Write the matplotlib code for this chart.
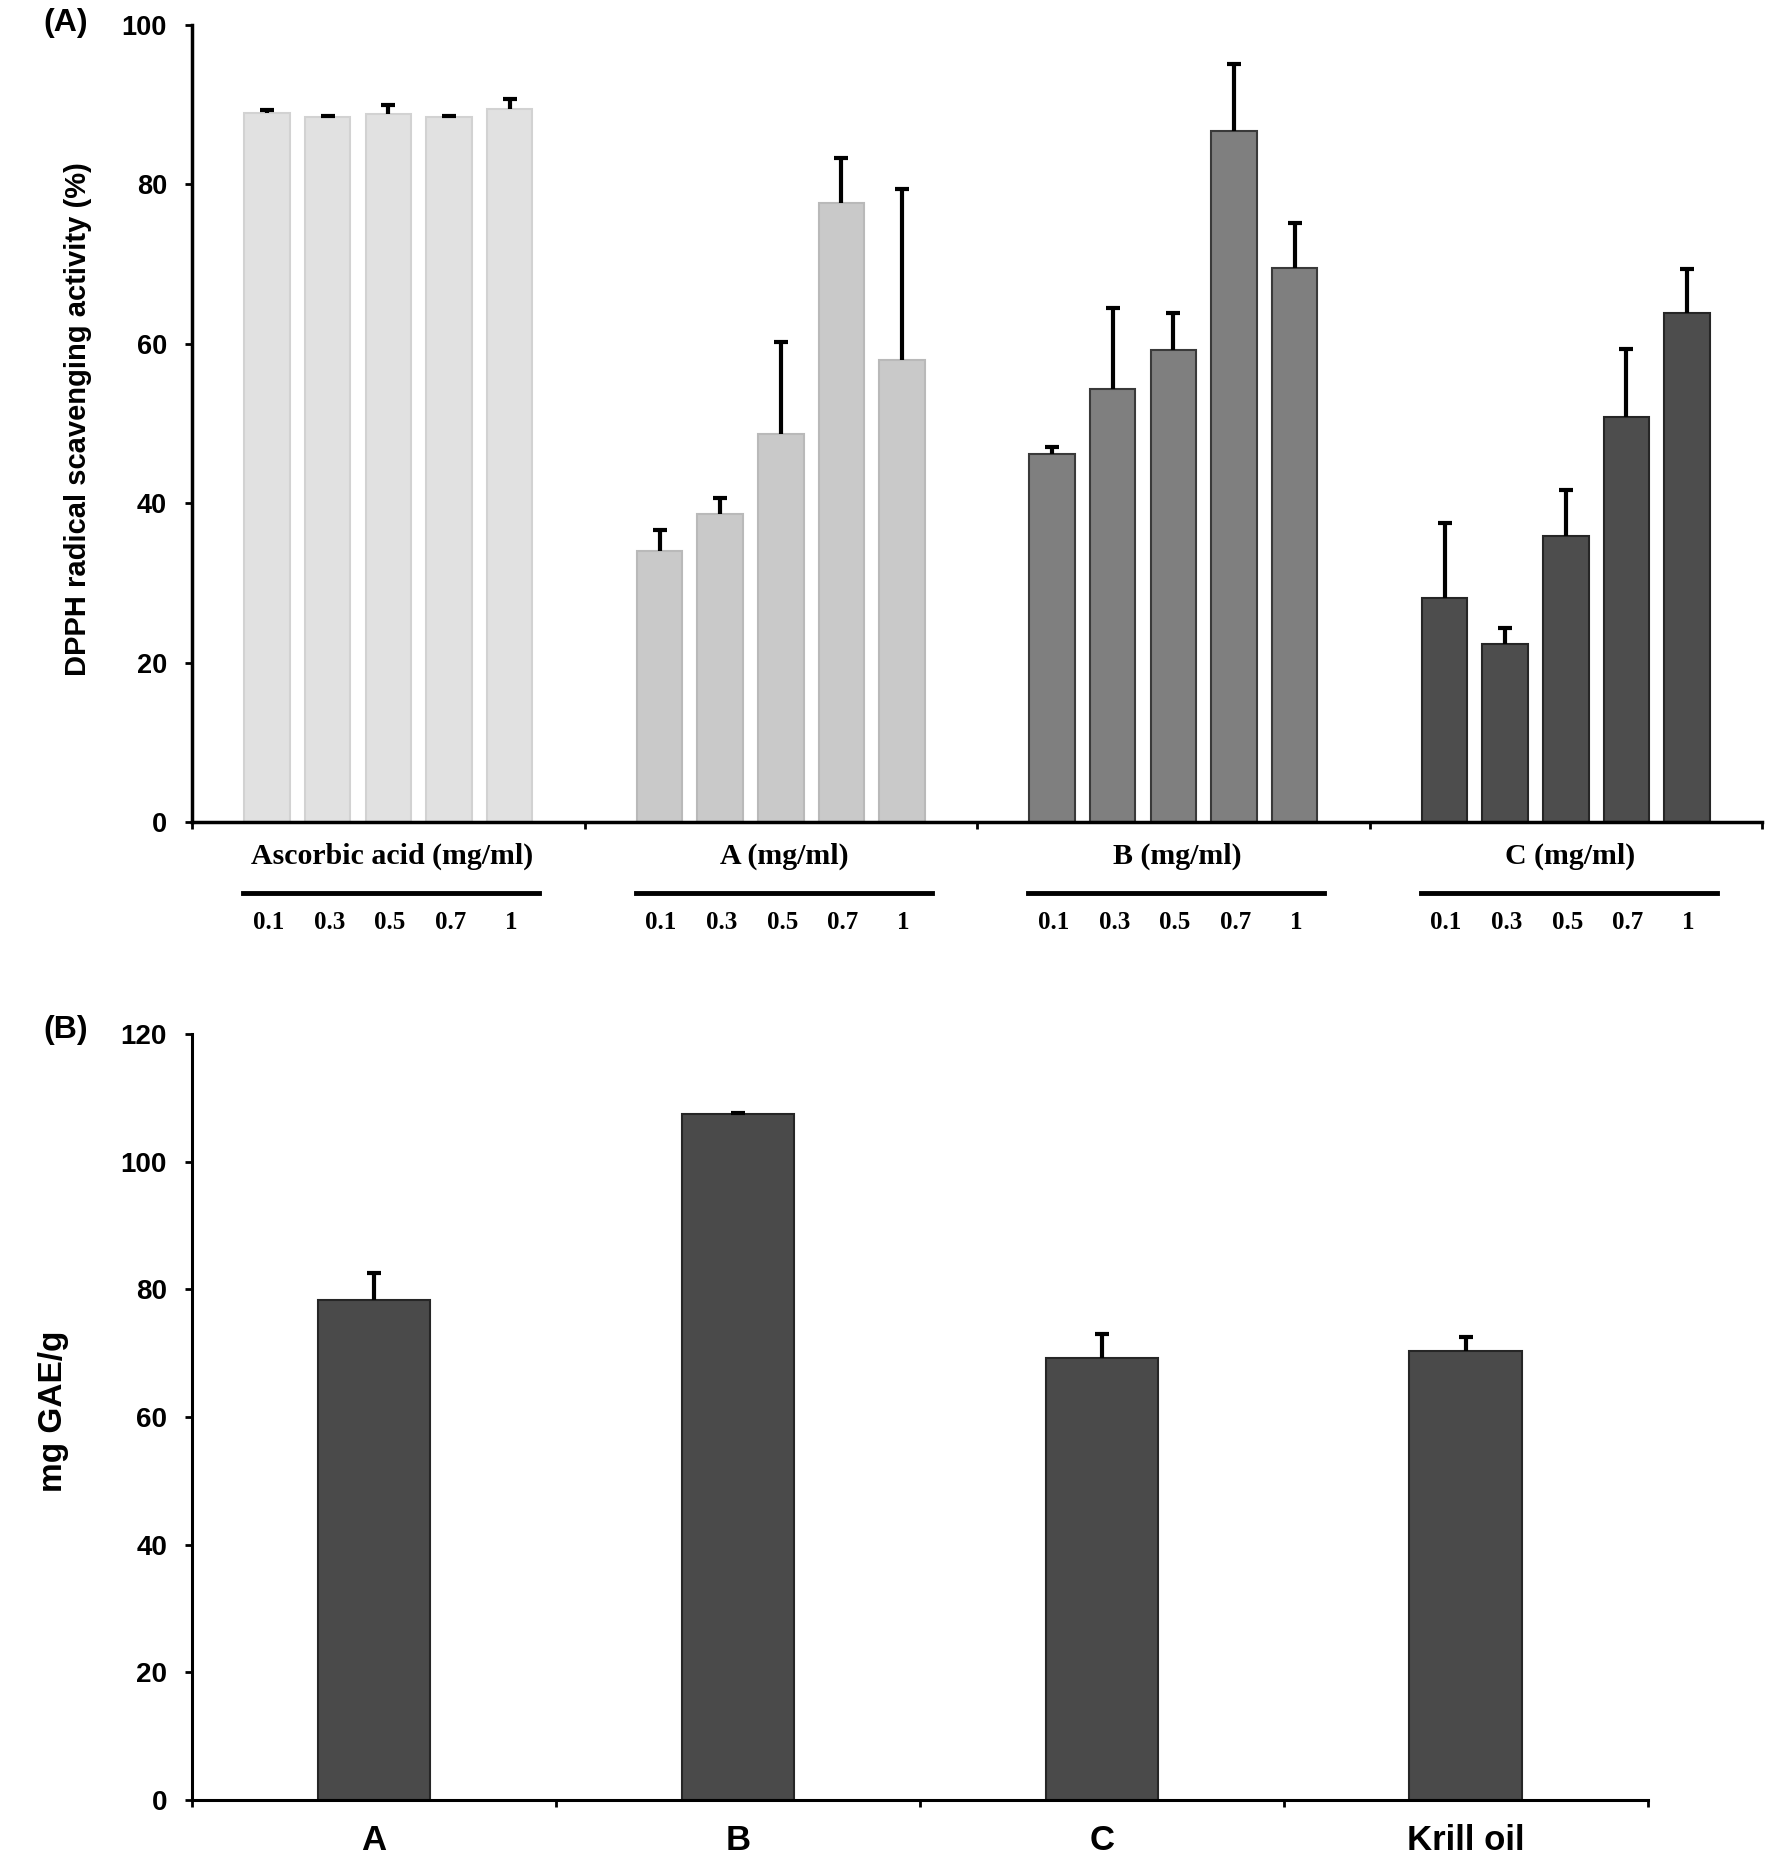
import matplotlib
matplotlib.use("Agg")
import matplotlib.pyplot as plt
import matplotlib.transforms as mtransforms
from matplotlib.lines import Line2D
import numpy as np

plt.rcParams['font.family'] = ['Liberation Sans', 'DejaVu Sans']

# ---------------- data ----------------
doses = ['0.1', '0.3', '0.5', '0.7', '1']
groups = ['Ascorbic acid (mg/ml)', 'A (mg/ml)', 'B (mg/ml)', 'C (mg/ml)']
asc_vals = [88.96, 88.46, 88.8, 88.46, 89.46]
asc_err = [0.4, 0.15, 1.15, 0.1, 1.25]
a_vals = [34.0, 38.7, 48.7, 77.7, 57.9]
a_err = [2.6, 1.9, 11.5, 5.6, 21.5]
b_vals = [46.2, 54.3, 59.2, 86.7, 69.5]
b_err = [0.9, 10.2, 4.6, 8.4, 5.7]
c_vals = [28.1, 22.3, 35.9, 50.8, 63.8]
c_err = [9.4, 2.0, 5.7, 8.5, 5.6]

tp_cats = ['A', 'B', 'C', 'Krill oil']
tp_vals = [78.4, 107.4, 69.3, 70.4]
tp_err = [4.2, 0.2, 3.7, 2.2]

group_vals = [asc_vals, a_vals, b_vals, c_vals]
group_errs = [asc_err, a_err, b_err, c_err]
fills = ['#e1e1e1', '#c9c9c9', '#7f7f7f', '#4d4d4d']
edges = ['#d2d2d2', '#b9b9b9', '#3a3a3a', '#262626']


def upper_errorbar(ax, xs, vals, errs):
    _, caps, _ = ax.errorbar(xs, vals, yerr=[np.zeros(len(errs)), errs], fmt='none',
                             ecolor='black', elinewidth=3, capsize=5, capthick=3, zorder=3)
    # hide the lower caps (drawn at bar tops)
    caps[0].set_visible(False)


fig = plt.figure(figsize=(17.7, 18.63), dpi=100)

# ---------------- panel A ----------------
axA = fig.add_axes([0.1085, 0.5588, 0.887, 0.4278])
spacing = 0.1545
width = 0.116
for g, (vals, errs) in enumerate(zip(group_vals, group_errs)):
    xs = g + 0.5 + (np.arange(len(vals)) - 2) * spacing
    axA.bar(xs, vals, width=width, color=fills[g], edgecolor=edges[g], linewidth=1.5, zorder=2)
    upper_errorbar(axA, xs, vals, errs)

axA.set_xlim(0, 4)
axA.set_ylim(0, 100)
axA.set_yticks(np.arange(0, 101, 20))
axA.set_xticks(np.arange(0, 5, 1))
axA.set_xticklabels([])
for s in ['top', 'right']:
    axA.spines[s].set_visible(False)
for s in ['left', 'bottom']:
    axA.spines[s].set_linewidth(2.5)
axA.tick_params(axis='y', direction='out', length=5, width=2, pad=13, labelsize=19.5)
axA.tick_params(axis='x', direction='out', length=5, width=2)
for lab in axA.get_yticklabels():
    lab.set_fontweight('bold')

fig.text(0.044, 0.775, 'DPPH radical scavenging activity (%)', rotation=90,
         ha='center', va='center', fontsize=21, fontweight='bold')
fig.text(0.037, 0.9875, '(A)', ha='center', va='center', fontsize=23, fontweight='bold')

trans = mtransforms.blended_transform_factory(axA.transData, fig.transFigure)
for g, name in enumerate(groups):
    c = g + 0.5
    fig.text(c + 0.01, 0.5402, name, transform=trans, ha='center', va='center',
             fontsize=21.5, fontweight='bold', family='Liberation Serif')
    ln = Line2D([c - 0.37, c + 0.385], [0.5206, 0.5206], transform=trans,
                color='black', linewidth=3.5, clip_on=False)
    axA.add_artist(ln)
    xs = c + (np.arange(len(doses)) - 2) * spacing
    for x, d in zip(xs, doses):
        fig.text(x + 0.004, 0.5046, d, transform=trans, ha='center', va='center',
                 fontsize=18, fontweight='bold', family='Liberation Serif')

# ---------------- panel B ----------------
axB = fig.add_axes([0.1085, 0.0338, 0.8225, 0.4112])
xb = np.arange(len(tp_cats)) + 0.5
axB.bar(xb, tp_vals, width=0.31, color='#4a4a4a', edgecolor='#262626', linewidth=1.5, zorder=2)
upper_errorbar(axB, xb, tp_vals, tp_err)
axB.set_xlim(0, 4)
axB.set_ylim(0, 120)
axB.set_yticks(np.arange(0, 121, 20))
axB.set_xticks(np.arange(0, 5, 1))
axB.set_xticklabels([])
axB.set_xticks(xb, minor=True)
axB.set_xticklabels(tp_cats, minor=True, fontsize=25, fontweight='bold')
axB.tick_params(axis='x', which='minor', length=0, pad=17)
for s in ['top', 'right']:
    axB.spines[s].set_visible(False)
for s in ['left', 'bottom']:
    axB.spines[s].set_linewidth(2.2)
axB.tick_params(axis='y', direction='out', length=5, width=2, pad=13, labelsize=20)
axB.tick_params(axis='x', which='major', direction='out', length=5, width=2)
for lab in axB.get_yticklabels():
    lab.set_fontweight('bold')

fig.text(0.030, 0.2426, 'mg GAE/g', rotation=90, ha='center', va='center',
         fontsize=24, fontweight='bold')
fig.text(0.037, 0.447, '(B)', ha='center', va='center', fontsize=23, fontweight='bold')

fig.savefig('out.png', dpi=100)
